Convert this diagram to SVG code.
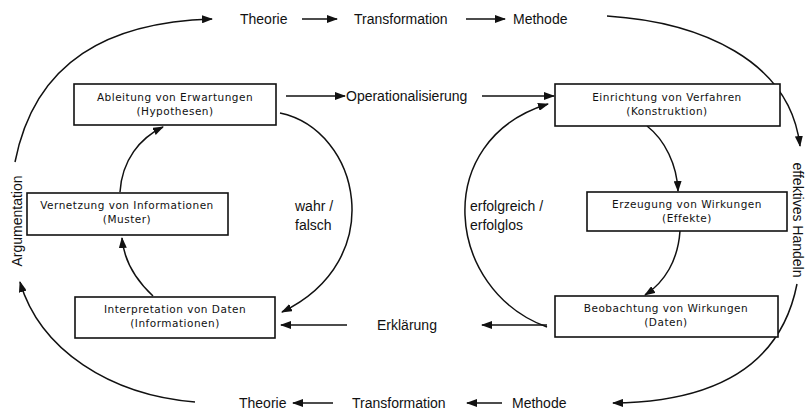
<svg xmlns="http://www.w3.org/2000/svg" width="805" height="410" viewBox="0 0 805 410">
<style>
.bx{fill:#fff;stroke:#111;stroke-width:1.6}
.bt{font-family:"DejaVu Sans","Liberation Sans",sans-serif;font-size:10.5px;letter-spacing:0.5px;fill:#111;text-anchor:middle}
.lb{font-family:"Liberation Sans",Arial,sans-serif;font-size:14px;fill:#111}
.c{fill:none;stroke:#111;stroke-width:1.5;marker-end:url(#ah)}
</style>
<defs>
<marker id="ah" markerWidth="11" markerHeight="8" refX="10" refY="4" orient="auto" markerUnits="userSpaceOnUse">
<path d="M0,0 L11,4 L0,8 Z" fill="#111"/>
</marker>
</defs>
<rect width="805" height="410" fill="#fff"/>

<g id="connectors">
<!-- outer cycle -->
<path class="c" d="M15,162 C35,60 110,22 212,19"/>
<path class="c" d="M302,19 L337,19"/>
<path class="c" d="M466,19 L505,19"/>
<path class="c" d="M607,16 C700,22 790,60 800,146"/>
<path class="c" d="M797,284 C780,370 710,402 613,403"/>
<path class="c" d="M502,403 L467,403"/>
<path class="c" d="M333,403 L293,403"/>
<path class="c" d="M195,402 C110,395 40,350 20,282"/>
<!-- middle -->
<path class="c" d="M286,96 L345,96"/>
<path class="c" d="M482,96 L554,96"/>
<path class="c" d="M347,325 L281,325"/>
<path class="c" d="M547,325 L482,325"/>
<!-- left cycle -->
<path class="c" d="M280,113 C360,130 390,260 282,312"/>
<path class="c" d="M153,296 C138,282 124,262 122,238"/>
<path class="c" d="M120,192 C122,160 140,138 163,127"/>
<!-- right cycle -->
<path class="c" d="M647,126 C665,140 677,165 678,191"/>
<path class="c" d="M680,231 C678,260 665,282 645,295"/>
<path class="c" d="M547,327 C445,290 430,140 548,104"/>
</g>

<g id="labels">
<text class="lb" x="240" y="24">Theorie</text>
<text class="lb" x="354" y="24">Transformation</text>
<text class="lb" x="513" y="24">Methode</text>
<text class="lb" x="239" y="408">Theorie</text>
<text class="lb" x="352" y="408">Transformation</text>
<text class="lb" x="512" y="408">Methode</text>
<text class="lb" x="346" y="101">Operationalisierung</text>
<text class="lb" x="377" y="330">Erklärung</text>
<text class="lb" x="295" y="211">wahr /</text>
<text class="lb" x="295" y="230">falsch</text>
<text class="lb" x="470" y="211">erfolgreich /</text>
<text class="lb" x="470" y="230">erfolglos</text>
<text class="lb" text-anchor="middle" transform="translate(22,221) rotate(-90)">Argumentation</text>
<text class="lb" text-anchor="middle" transform="translate(793,220) rotate(90)">effektives Handeln</text>
</g>

<g id="ableitung">
<rect class="bx" x="74" y="84" width="202" height="41"/>
<text class="bt" x="175" y="101">Ableitung von Erwartungen</text>
<text class="bt" x="175" y="115">(Hypothesen)</text>
</g>
<g id="einrichtung">
<rect class="bx" x="555" y="84" width="225" height="42"/>
<text class="bt" x="667" y="101">Einrichtung von Verfahren</text>
<text class="bt" x="667" y="115">(Konstruktion)</text>
</g>
<g id="vernetzung">
<rect class="bx" x="27" y="193" width="201" height="42"/>
<text class="bt" x="127" y="209">Vernetzung von Informationen</text>
<text class="bt" x="127" y="223">(Muster)</text>
</g>
<g id="erzeugung">
<rect class="bx" x="587" y="192" width="200" height="39"/>
<text class="bt" x="687" y="208">Erzeugung von Wirkungen</text>
<text class="bt" x="687" y="222">(Effekte)</text>
</g>
<g id="interpretation">
<rect class="bx" x="75" y="297" width="200" height="41"/>
<text class="bt" x="175" y="313">Interpretation von Daten</text>
<text class="bt" x="175" y="327">(Informationen)</text>
</g>
<g id="beobachtung">
<rect class="bx" x="555" y="296" width="223" height="41"/>
<text class="bt" x="666" y="312">Beobachtung von Wirkungen</text>
<text class="bt" x="666" y="326">(Daten)</text>
</g>
</svg>
